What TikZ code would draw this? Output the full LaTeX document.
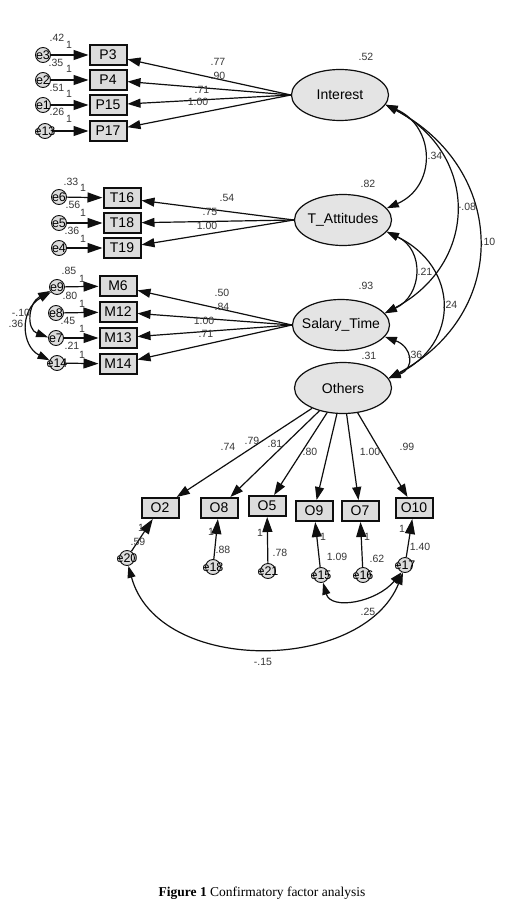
\documentclass[tikz,border=0pt]{standalone}
\usepackage{fontspec}
\setmainfont{Liberation Serif}
\newfontfamily\amosfont{Liberation Sans}
\usepackage{xcolor}
\definecolor{amosfill}{RGB}{228, 228, 228}
\definecolor{amosbox}{RGB}{220, 220, 220}
\definecolor{amosline}{RGB}{15,  15,  15}
\definecolor{amostext}{RGB}{55,  55,  55}
\usepackage{tikz}
\usetikzlibrary{shapes.geometric,arrows.meta}
\tikzset{
  % --- VARIABLES ---
  latent-var/.style={
    ellipse,
    draw=amosline,
    line width=1.2pt,
    fill=amosfill,
    minimum width=97pt,
    minimum height=51pt,
    inner sep=0pt
  },
  latent-name/.style={
    font=\amosfont\fontsize{14}{16}\selectfont,
    text=black
  },
  observed-var/.style={
    rectangle,
    draw=amosline,
    line width=2pt,
    fill=amosbox,
    minimum width=37pt,
    minimum height=20pt,
    inner sep=0pt,
    font=\amosfont\fontsize{14}{16}\selectfont
  },
  error-var/.style={
    circle,
    draw=amosline,
    line width=0.9pt,
    fill=amosbox,
    minimum size=15pt,
    inner sep=0pt
  },
  error-name/.style={
    font=\amosfont\fontsize{12.5}{14}\selectfont,
    text=black
  },
  % --- ESTIMATES ---
  est/.style={
    font=\amosfont\fontsize{10.5}{12}\selectfont,
    text=amostext,
    inner sep=0pt
  },
  caption/.style={
    font=\fontsize{13.5}{16}\selectfont
  },
  % --- ARROWS ---
  arrw/.style={
    draw=amosline,
    line width=1.2pt,
    -{Triangle[length=13pt,width=9pt]}
  },
  err-arrw/.style={
    draw=amosline,
    line width=1.2pt,
    -{Triangle[length=15pt,width=10pt]}
  },
  cov-arrw/.style={
    draw=amosline,
    line width=1.2pt,
    {Triangle[length=12pt,width=8pt]}-{Triangle[length=12pt,width=8pt]}
  },
}

\begin{document}
\begin{tikzpicture}[x=1pt, y=-1pt]
  \useasboundingbox[fill=white] (0,0) rectangle (525,909);

  % --- latent variables
  \node[latent-var, label={[latent-name]center:Interest}]     (Interest) at (340, 95) {};
  \node[latent-var, label={[latent-name]center:T\_Attitudes}] (TAtt)     at (343,220) {};
  \node[latent-var, label={[latent-name]center:Salary\_Time}] (Salary)   at (341,325) {};
  \node[latent-var, label={[latent-name]center:Others}]       (Others)   at (343,388) {};
  \node[est] (v-Interest) at (366, 57) {.52};
  \node[est] (v-TAtt)     at (368,184) {.82};
  \node[est] (v-Salary)   at (366,286) {.93};
  \node[est] (v-Others)   at (369,356) {.31};

  % --- Interest block
  \node[observed-var] (P3)  at (108, 55) {P3};
  \node[observed-var] (P4)  at (108, 80) {P4};
  \node[observed-var] (P15) at (108,105) {P15};
  \node[observed-var] (P17) at (108,131) {P17};
  \node[error-var, label={[error-name]center:e3}]  (e3)  at (43, 55) {};
  \node[error-var, label={[error-name]center:e2}]  (e2)  at (43, 80) {};
  \node[error-var, label={[error-name]center:e1}]  (e1)  at (43,105) {};
  \node[error-var, label={[error-name]center:e13}] (e13) at (45,131) {};
  \draw[err-arrw] (e3)  -- (P3);
  \draw[err-arrw] (e2)  -- (P4);
  \draw[err-arrw] (e1)  -- (P15);
  \draw[err-arrw] (e13) -- (P17);
  \node[est] (v-e3)  at (57, 38) {.42};  \node[est] (w-e3)  at (69, 45) {1};
  \node[est] (v-e2)  at (56, 63) {.35};  \node[est] (w-e2)  at (69, 69) {1};
  \node[est] (v-e1)  at (57, 88) {.51};  \node[est] (w-e1)  at (69, 94) {1};
  \node[est] (v-e13) at (57,112) {.26};  \node[est] (w-e13) at (69,119) {1};
  \draw[arrw] (Interest.west) -- (P3);
  \draw[arrw] (Interest.west) -- (P4);
  \draw[arrw] (Interest.west) -- (P15);
  \draw[arrw] (Interest.west) -- (P17);
  \node[est] (l-P3)  at (218, 62) {.77};
  \node[est] (l-P4)  at (218, 76) {.90};
  \node[est] (l-P15) at (202, 90) {.71};
  \node[est] (l-P17) at (198,102) {1.00};

  % --- T_Attitudes block
  \node[observed-var] (T16) at (122,198) {T16};
  \node[observed-var] (T18) at (122,223) {T18};
  \node[observed-var] (T19) at (122,248) {T19};
  \node[error-var, label={[error-name]center:e6}] (e6) at (59,197) {};
  \node[error-var, label={[error-name]center:e5}] (e5) at (59,223) {};
  \node[error-var, label={[error-name]center:e4}] (e4) at (59,248) {};
  \draw[err-arrw] (e6) -- (T16);
  \draw[err-arrw] (e5) -- (T18);
  \draw[err-arrw] (e4) -- (T19);
  \node[est] (v-e6) at (71,182) {.33};  \node[est] (w-e6) at (83,188) {1};
  \node[est] (v-e5) at (73,205) {.56};  \node[est] (w-e5) at (83,213) {1};
  \node[est] (v-e4) at (72,231) {.36};  \node[est] (w-e4) at (83,239) {1};
  \draw[arrw] (TAtt.west) -- (T16);
  \draw[arrw] (TAtt.west) -- (T18);
  \draw[arrw] (TAtt.west) -- (T19);
  \node[est] (l-T16) at (227,198) {.54};
  \node[est] (l-T18) at (210,212) {.75};
  \node[est] (l-T19) at (207,226) {1.00};

  % --- Salary_Time block
  \node[observed-var] (M6)  at (118,286) {M6};
  \node[observed-var] (M12) at (118,312) {M12};
  \node[observed-var] (M13) at (118,338) {M13};
  \node[observed-var] (M14) at (118,364) {M14};
  \node[error-var, label={[error-name]center:e9}]  (e9)  at (57,287) {};
  \node[error-var, label={[error-name]center:e8}]  (e8)  at (56,313) {};
  \node[error-var, label={[error-name]center:e7}]  (e7)  at (56,338) {};
  \node[error-var, label={[error-name]center:e14}] (e14) at (57,363) {};
  \draw[err-arrw] (e9)  -- (M6);
  \draw[err-arrw] (e8)  -- (M12);
  \draw[err-arrw] (e7)  -- (M13);
  \draw[err-arrw] (e14) -- (M14);
  \node[est] (v-e9)  at (69,271) {.85};  \node[est] (w-e9)  at (82,279) {1};
  \node[est] (v-e8)  at (70,296) {.80};  \node[est] (w-e8)  at (82,304) {1};
  \node[est] (v-e7)  at (68,321) {.45};  \node[est] (w-e7)  at (82,329) {1};
  \node[est] (v-e14) at (72,346) {.21};  \node[est] (w-e14) at (82,355) {1};
  \draw[cov-arrw] (e9.-150) .. controls +(-22,12) and +(-22,-8) .. (e7.175);
  \draw[cov-arrw] (e9.-140) .. controls +(-32,18) and +(-28,-14) .. (e14.160);
  \node[est] (c-e9-e7)  at (21,313) {-.10};
  \node[est] (c-e9-e14) at (16,324) {.36};
  \draw[arrw] (Salary.west) -- (M6);
  \draw[arrw] (Salary.west) -- (M12);
  \draw[arrw] (Salary.west) -- (M13);
  \draw[arrw] (Salary.west) -- (M14);
  \node[est] (l-M6)  at (222,293) {.50};
  \node[est] (l-M12) at (222,307) {.84};
  \node[est] (l-M13) at (204,321) {1.00};
  \node[est] (l-M14) at (206,334) {.71};

  % --- Others block
  \node[observed-var] (O2)  at (160,508) {O2};
  \node[observed-var] (O8)  at (219,508) {O8};
  \node[observed-var] (O5)  at (267,506) {O5};
  \node[observed-var] (O9)  at (314,511) {O9};
  \node[observed-var] (O7)  at (360,511) {O7};
  \node[observed-var] (O10) at (414,508) {O10};
  \draw[arrw] (Others) -- (O2);
  \draw[arrw] (Others) -- (O8);
  \draw[arrw] (Others) -- (O5);
  \draw[arrw] (Others) -- (O9);
  \draw[arrw] (Others) -- (O7);
  \draw[arrw] (Others) -- (O10);
  \node[est] (l-O2)  at (228,447) {.74};
  \node[est] (l-O8)  at (252,441) {.79};
  \node[est] (l-O5)  at (275,444) {.81};
  \node[est] (l-O9)  at (310,452) {.80};
  \node[est] (l-O7)  at (370,452) {1.00};
  \node[est] (l-O10) at (407,447) {.99};
  \node[error-var, label={[error-name]center:e20}] (e20) at (127,558) {};
  \node[error-var, label={[error-name]center:e18}] (e18) at (213,567) {};
  \node[error-var, label={[error-name]center:e21}] (e21) at (268,571) {};
  \node[error-var, label={[error-name]center:e15}] (e15) at (321,575) {};
  \node[error-var, label={[error-name]center:e16}] (e16) at (363,575) {};
  \node[error-var, label={[error-name]center:e17}] (e17) at (405,565) {};
  \draw[err-arrw] (e20) -- (O2);
  \draw[err-arrw] (e18) -- (O8);
  \draw[err-arrw] (e21) -- (O5);
  \draw[err-arrw] (e15) -- (O9);
  \draw[err-arrw] (e16) -- (O7);
  \draw[err-arrw] (e17) -- (O10);
  \node[est] (w-e20) at (141,528) {1};  \node[est] (v-e20) at (138,542) {.59};
  \node[est] (w-e18) at (211,532) {1};  \node[est] (v-e18) at (223,550) {.88};
  \node[est] (w-e21) at (260,533) {1};  \node[est] (v-e21) at (280,553) {.78};
  \node[est] (w-e15) at (323,537) {1};  \node[est] (v-e15) at (337,557) {1.09};
  \node[est] (w-e16) at (367,537) {1};  \node[est] (v-e16) at (377,559) {.62};
  \node[est] (w-e17) at (402,529) {1};  \node[est] (v-e17) at (420,547) {1.40};
  \draw[cov-arrw] (e15.-75) .. controls +(8,28) and +(-25,30) .. (e17.-115);
  \draw[cov-arrw] (e20.-80) .. controls +(30,110) and +(-40,100) .. (e17.-105);
  \node[est] (c-e15-e17) at (368,612) {.25};
  \node[est] (c-e20-e17) at (263,662) {-.15};

  % --- factor covariances
  \draw[cov-arrw] (Interest.-12) .. controls +(50,22) and +(50,-22) .. (TAtt.15);
  \draw[cov-arrw] (Interest.-12) .. controls +(94,50) and +(94,-50) .. (Salary.15);
  \draw[cov-arrw] (Interest.-12) .. controls +(122,65) and +(122,-65) .. (Others.12);
  \draw[cov-arrw] (TAtt.-15) .. controls +(38,18) and +(38,-18) .. (Salary.15);
  \draw[cov-arrw] (TAtt.-15) .. controls +(72,35) and +(72,-35) .. (Others.12);
  \draw[cov-arrw] (Salary.-15) .. controls +(27,10) and +(27,-10) .. (Others.12);
  \node[est] (c-I-T) at (435,156) {.34};
  \node[est] (c-I-S) at (467,207) {-.08};
  \node[est] (c-I-O) at (488,242) {.10};
  \node[est] (c-T-S) at (425,272) {.21};
  \node[est] (c-T-O) at (450,305) {.24};
  \node[est] (c-S-O) at (415,355) {.36};

  % --- caption
  \node[caption] (fig-caption) at (262,893) {\textbf{Figure 1} Confirmatory factor analysis};

\end{tikzpicture}
\end{document}
